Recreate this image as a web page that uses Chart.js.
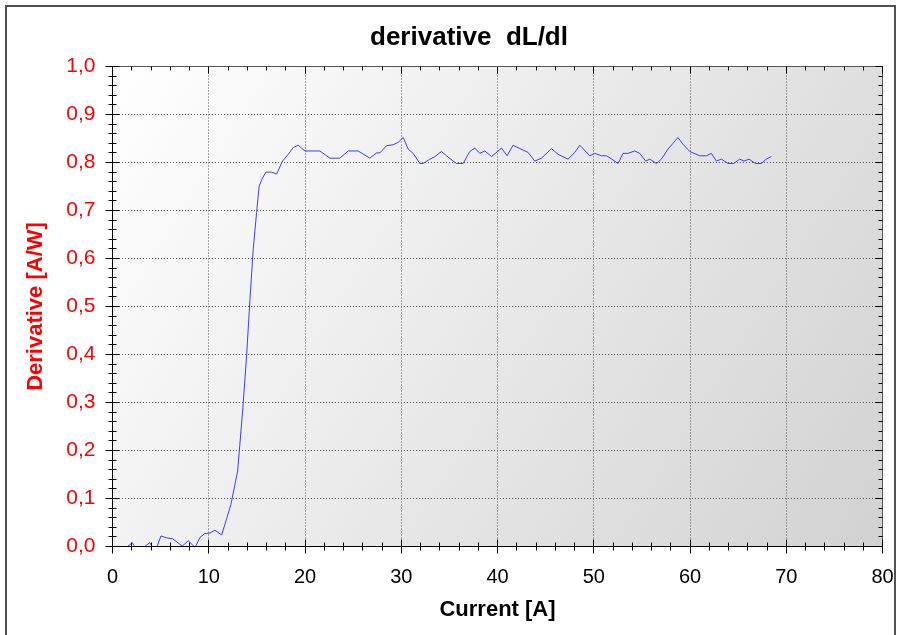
<!DOCTYPE html>
<html><head><meta charset="utf-8">
<script src="https://cdn.jsdelivr.net/npm/chart.js@4.4.0/dist/chart.umd.min.js"></script>
<style>
html,body{margin:0;padding:0;background:#fff;overflow:hidden}
#wrap{position:relative;width:901px;height:635px}
#frame{position:absolute;left:5px;top:5px;width:891px;height:640px;border:2px solid #505050;pointer-events:none;box-sizing:border-box}
</style></head><body>
<div id="wrap"><canvas id="c" width="901" height="635"></canvas><div id="frame"></div></div>
<script>
// Current [A]
const currentA = [0.96, 2.06, 2.34, 3.2, 3.89, 4.1, 4.59, 5.04, 5.63, 6.25, 7.25, 7.87, 8.57, 9.09, 9.6,
  10.12, 10.64, 11.34, 11.86, 12.3, 13.0, 13.55, 13.94, 14.28, 14.62, 14.97, 15.24, 15.52, 15.94,
  16.53, 17.05, 17.67, 18.26, 18.77, 19.29, 19.99, 21.55, 22.59, 23.62, 24.49, 25.52, 26.74, 27.43,
  27.78, 28.47, 29.16, 29.68, 30.2, 30.72, 31.24, 31.93, 32.27, 32.97, 33.49, 34.18, 34.7, 35.39,
  35.74, 36.43, 37.12, 37.64, 38.16, 38.68, 39.38, 40.42, 41.0, 41.62, 42.32, 43.18, 43.87, 44.57,
  45.61, 46.29, 47.33, 48.03, 48.55, 49.58, 50.1, 50.8, 51.32, 51.87, 52.52, 53.04, 53.56, 54.26,
  54.78, 55.4, 55.82, 56.51, 57.03, 57.72, 58.23, 58.75, 59.27, 59.97, 61.01, 61.7, 62.22, 62.74,
  63.26, 63.95, 64.54, 65.16, 65.61, 66.13, 66.79, 67.41, 67.93, 68.45];
// Derivative [A/W]
const derivative = [-0.01, 0.008, -0.002, -0.002, 0.008, 0.0, -0.002, 0.022, 0.018, 0.016, 0.001, 0.012, -0.002, 0.019, 0.027,
  0.028, 0.034, 0.024, 0.058, 0.0875, 0.157, 0.29, 0.40, 0.515, 0.619, 0.696, 0.751, 0.765, 0.780,
  0.780, 0.776, 0.803, 0.817, 0.831, 0.836, 0.824, 0.824, 0.809, 0.809, 0.824, 0.824, 0.809, 0.820,
  0.820, 0.835, 0.837, 0.842, 0.852, 0.828, 0.819, 0.798, 0.798, 0.807, 0.812, 0.823, 0.814, 0.803,
  0.798, 0.798, 0.823, 0.830, 0.819, 0.824, 0.8125, 0.830, 0.814, 0.836, 0.829, 0.821, 0.803, 0.809,
  0.829, 0.817, 0.807, 0.821, 0.836, 0.814, 0.819, 0.814, 0.814, 0.807, 0.798, 0.819, 0.819, 0.824,
  0.819, 0.803, 0.807, 0.798, 0.807, 0.828, 0.840, 0.852, 0.838, 0.823, 0.814, 0.814, 0.819, 0.803,
  0.807, 0.798, 0.798, 0.807, 0.803, 0.807, 0.798, 0.798, 0.807, 0.8125];
const xTickValues = [0, 10, 20, 30, 40, 50, 60, 70, 80];
const yTickValues = [0, 0.1, 0.2, 0.3, 0.4, 0.5, 0.6, 0.7, 0.8, 0.9, 1.0];

const FONT = "'Liberation Sans', Arial, sans-serif";
const points = currentA.map((x, i) => ({x: x, y: derivative[i]}));

const crisp = v => Math.round(v - 0.5) + 0.5;

const framePlugin = {
  id: 'framePlugin',
  afterLayout(chart) {
    chart.titleBlock.left = 37;
    chart.titleBlock.right = 901;
  },
  beforeDraw(chart) {
    const {ctx, chartArea: a} = chart;
    ctx.save();
    const g = ctx.createLinearGradient(a.left, a.top, a.right, a.bottom);
    g.addColorStop(0, '#ffffff');
    g.addColorStop(1, '#d2d2d2');
    ctx.fillStyle = g;
    ctx.fillRect(a.left, a.top, a.right - a.left, a.bottom - a.top);
    ctx.restore();
  },
  afterDatasetsDraw(chart) {
    const {ctx, chartArea: a, scales: {x, y}} = chart;
    ctx.save();
    ctx.lineWidth = 1;
    const L = crisp(a.left), R = crisp(a.right), T = crisp(a.top), B = crisp(a.bottom);
    ctx.strokeStyle = '#555';
    ctx.beginPath();
    ctx.moveTo(L, T); ctx.lineTo(R, T); ctx.lineTo(R, B);
    ctx.stroke();
    ctx.strokeStyle = '#000';
    ctx.beginPath();
    ctx.moveTo(L, T); ctx.lineTo(L, B); ctx.lineTo(R, B);
    ctx.stroke();
    ctx.beginPath();
    for (let i = 0; i <= 40; i++) {
      const v = i * 2;
      const px = crisp(x.getPixelForValue(v));
      const major = v % 10 === 0;
      const len = major ? 7 : 4;
      ctx.moveTo(px, B - len); ctx.lineTo(px, B + len);
      ctx.moveTo(px, T); ctx.lineTo(px, T + len);
    }
    for (let i = 0; i <= 50; i++) {
      const v = i * 0.02;
      const py = crisp(y.getPixelForValue(v));
      const major = i % 5 === 0;
      const len = major ? 7 : 4;
      ctx.moveTo(L - len, py); ctx.lineTo(L + len, py);
      ctx.moveTo(R - len, py); ctx.lineTo(R, py);
    }
    ctx.stroke();
    ctx.restore();
  }
};

new Chart(document.getElementById('c'), {
  type: 'line',
  data: {
    datasets: [{
      data: points,
      borderColor: '#3c3cff',
      borderWidth: 1,
      pointRadius: 0,
      tension: 0,
      fill: false
    }]
  },
  options: {
    responsive: false,
    animation: false,
    devicePixelRatio: 1,
    layout: {padding: {left: 0, right: 18.5, top: 0, bottom: 0}},
    plugins: {
      legend: {display: false},
      tooltip: {enabled: false},
      title: {
        display: true,
        text: 'derivative  dL/dl',
        color: '#000',
        font: {family: FONT, size: 26, weight: 'bold'},
        padding: {top: 22.4, bottom: 12.9}
      }
    },
    scales: {
      x: {
        type: 'linear',
        min: 0, max: 80,
        afterBuildTicks: s => { s.ticks = xTickValues.map(v => ({value: v})); },
        afterFit: s => { s.height = 88.5; s.paddingLeft = 0; s.paddingRight = 0; },
        ticks: {color: '#000', font: {family: FONT, size: 20}, padding: 19, maxRotation: 0},
        grid: {
          drawTicks: false,
          color: c => (c.tick && (c.tick.value === 0 || c.tick.value === 80)) ? 'rgba(0,0,0,0)' : '#555',
          lineWidth: 1
        },
        border: {display: false, dash: [1, 2]},
        title: {display: true, text: 'Current [A]', color: '#000',
          font: {family: FONT, size: 22, weight: 'bold'}, padding: {top: 0, bottom: 12}}
      },
      y: {
        type: 'linear',
        min: 0, max: 1,
        afterBuildTicks: s => { s.ticks = yTickValues.map(v => ({value: v})); },
        afterFit: s => { s.width = 112.5; s.paddingTop = 0; s.paddingBottom = 0; },
        ticks: {color: '#ff0000', font: {family: FONT, size: 21}, padding: 17,
          callback: v => v.toFixed(1).replace('.', ',')},
        grid: {
          drawTicks: false,
          color: c => (c.tick && (c.tick.value === 0 || Math.abs(c.tick.value - 1) < 1e-9)) ? 'rgba(0,0,0,0)' : '#555',
          lineWidth: 1
        },
        border: {display: false, dash: [1, 2]},
        title: {display: true, text: 'Derivative [A/W]', color: '#ff0000',
          font: {family: FONT, size: 22, weight: 'bold'}, padding: {top: 22.8, bottom: 0}}
      }
    }
  },
  plugins: [framePlugin]
});
</script>
</body></html>
